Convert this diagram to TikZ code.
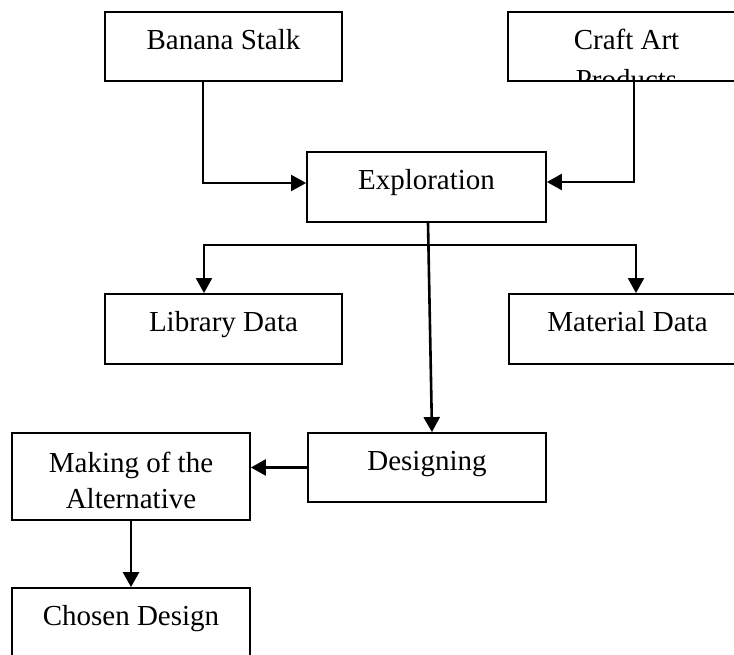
\documentclass[tikz,border=0pt]{standalone}
\usepackage{fontspec}
\setmainfont{Liberation Serif}
\usetikzlibrary{arrows.meta}
\newcommand{\mytwolines}[2]{\vtop{\halign{\hfil##\hfil\cr #1\cr #2\cr}}}
\begin{document}
\begin{tikzpicture}[x=1pt,y=-1pt,
  box/.style={draw, line width=1.8pt, inner xsep=0pt, inner ysep=0pt,
    minimum width=237pt, text height=37.5pt, text depth=31.5pt,
    font=\fontsize{29}{36}\selectfont},
  conn/.style={line width=2.6pt},
  tip/.tip={Triangle[length=15pt,width=16pt]},
  arr/.style={conn, -tip}]
\useasboundingbox (0,0) rectangle (734,655);

\node[box] (banana) at (223.5,46.5) {Banana Stalk};
\node[box] (craft) at (626.5,46.5) {};
\begin{scope}
  \clip (craft.north west) rectangle (craft.south east);
  \node[box, draw=none, font=\fontsize{29}{40}\selectfont] (crafttext) at (craft) {\mytwolines{Craft Art}{Products}};
\end{scope}
\node[box, minimum width=239pt, text depth=32.5pt] (explore) at (426.5,187) {Exploration};
\node[box, text depth=32.5pt] (library) at (223.5,329) {Library Data};
\node[box, text depth=32.5pt] (material) at (627.5,329) {Material Data};
\node[box, minimum width=238pt] (designing) at (427,467.5) {Designing};
\node[box, minimum width=238pt, text height=39pt, text depth=48pt] (making) at (131,476.5) {\mytwolines{Making of the}{Alternative}};
\node[box, minimum width=238pt] (chosen) at (131,622.5) {Chosen Design};

\draw[conn, line width=2pt, -tip] ([xshift=-20.5pt]banana.south) |- ([yshift=4pt]explore.west);
\draw[arr] ([xshift=7.5pt]craft.south) |- ([yshift=5pt]explore.east);
\draw[arr] ([xshift=1.5pt]explore.south) -- ([xshift=5pt]designing.north);
\coordinate (split) at (636,245);
\draw[conn, line width=2pt, tip-tip] ([xshift=-19.5pt]library.north) |- (split) -- (split |- material.north);
\draw[arr] (designing.west) -- (designing.west -| making.east);
\draw[arr] (making.south) -- (chosen.north);
\end{tikzpicture}
\end{document}
